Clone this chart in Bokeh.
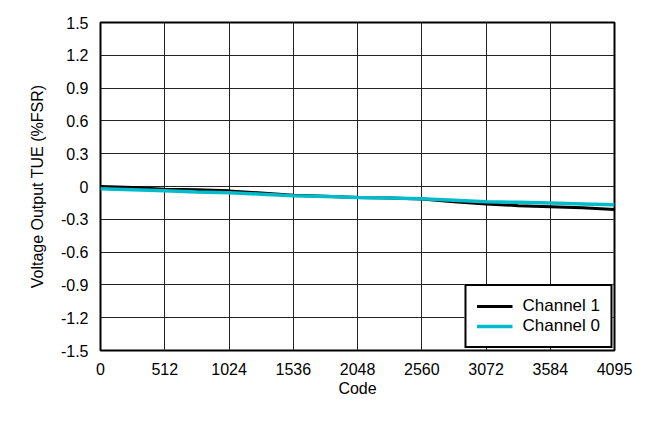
from bokeh.plotting import figure
from bokeh.models import FixedTicker, CustomJSTickFormatter, Legend, LegendItem, Range1d
from bokeh.embed import file_html
from bokeh.resources import INLINE

codes = [0, 256, 512, 768, 1024, 1280, 1536, 1792, 2048, 2304, 2560, 2816, 3072, 3328, 3584, 3840, 4095]
channel1 = [0.0, -0.01, -0.025, -0.03, -0.04, -0.06, -0.08, -0.09, -0.1, -0.105, -0.115, -0.14, -0.16, -0.175, -0.185, -0.195, -0.21]
channel0 = [-0.02, -0.03, -0.04, -0.05, -0.058, -0.07, -0.085, -0.092, -0.1, -0.105, -0.112, -0.125, -0.14, -0.145, -0.152, -0.16, -0.168]
x_ticks = [0, 512, 1024, 1536, 2048, 2560, 3072, 3584, 4095]
y_ticks = [-1.5, -1.2, -0.9, -0.6, -0.3, 0, 0.3, 0.6, 0.9, 1.2, 1.5]

FONT = "Liberation Sans"
FS = "16px"

p = figure(frame_width=514, frame_height=328, output_backend="svg", toolbar_location=None,
           x_range=Range1d(0, 4095), y_range=Range1d(-1.5, 1.5),
           min_border_left=100, min_border_right=31, min_border_top=22, min_border_bottom=70)
p.background_fill_color = "white"
p.border_fill_color = "white"
p.outline_line_color = "black"
p.outline_line_width = 2

for ax in (p.xaxis[0], p.yaxis[0]):
    ax.axis_line_color = None
    ax.major_tick_line_color = None
    ax.minor_tick_line_color = None
    ax.major_label_text_font = FONT
    ax.major_label_text_font_size = FS
    ax.major_label_text_color = "black"
    ax.axis_label_text_font = FONT
    ax.axis_label_text_font_size = FS
    ax.axis_label_text_font_style = "normal"
    ax.axis_label_text_color = "black"

p.xaxis.ticker = FixedTicker(ticks=x_ticks)
p.yaxis.ticker = FixedTicker(ticks=y_ticks)
p.yaxis.formatter = CustomJSTickFormatter(code="return Math.abs(tick) < 1e-9 ? '0' : tick.toFixed(1);")
p.xaxis.axis_label = "Code"
p.yaxis.axis_label = "Voltage Output TUE (%FSR)"
p.xaxis.major_label_standoff = 6
p.yaxis.major_label_standoff = 6
p.xaxis.axis_label_standoff = 2
p.yaxis.axis_label_standoff = 12

p.xgrid.grid_line_color = "#222222"
p.ygrid.grid_line_color = "#222222"
p.xgrid.grid_line_width = 1
p.ygrid.grid_line_width = 1

r1 = p.line(codes, channel1, line_color="black", line_width=3)
r0 = p.line(codes, channel0, line_color="#00BCCB", line_width=3.5)

legend = Legend(items=[LegendItem(label="Channel 1", renderers=[r1]),
                       LegendItem(label="Channel 0", renderers=[r0])],
                location="bottom_right")
legend.margin = 2
legend.padding = 10
legend.spacing = 0
legend.glyph_width = 36
legend.glyph_height = 18
legend.label_height = 18
legend.label_standoff = 10
legend.label_text_font = FONT
legend.label_text_font_size = "17px"
legend.label_text_color = "black"
legend.border_line_color = "black"
legend.border_line_width = 2
legend.border_line_alpha = 1
legend.background_fill_color = "white"
legend.background_fill_alpha = 1
p.add_layout(legend, "center")

open("out.html", "w").write(file_html(p, INLINE))
